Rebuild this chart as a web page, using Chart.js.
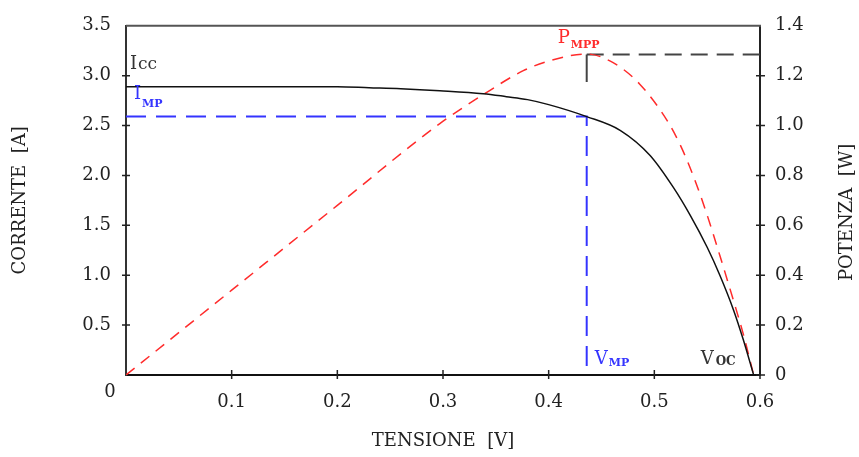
<!DOCTYPE html>
<html>
<head>
<meta charset="utf-8">
<script src="https://cdn.jsdelivr.net/npm/chart.js@4"></script>
<style>
  html, body { margin: 0; padding: 0; background: #fff; }
  #chart { display: block; }
</style>
</head>
<body>
<canvas id="chart" width="859" height="457"></canvas>
<script>
// curva I-V (corrente)
const tensioneI = [0, 0.1, 0.2, 0.23, 0.26, 0.297, 0.338, 0.36, 0.38, 0.40, 0.436, 0.468, 0.496, 0.518, 0.534, 0.55, 0.562, 0.575, 0.584, 0.594];
const corrente  = [2.89, 2.89, 2.89, 2.88, 2.87, 2.85, 2.82, 2.79, 2.76, 2.71, 2.59, 2.45, 2.2, 1.88, 1.6, 1.28, 1.0, 0.65, 0.36, 0];

// curva P-V (potenza)
const tensioneP = [0, 0.1, 0.2, 0.297, 0.338, 0.376, 0.401, 0.436, 0.461, 0.486, 0.512, 0.524, 0.537, 0.55, 0.562, 0.575, 0.584, 0.594];
const potenza   = [0, 0.34, 0.68, 1.008, 1.124, 1.22, 1.26, 1.287, 1.252, 1.167, 1.021, 0.927, 0.797, 0.641, 0.479, 0.297, 0.167, 0];

// punto di massima potenza
const VMP = 0.436;
const IMP = 2.59;
const PMPP = 1.285;
const PMARK = 1.175;
const VOC = 0.594;

const FONT = 'DejaVu Serif';
const INK = '#222';
const BLUE = '#3434ff';
const RED = '#ff2b2b';

function pts(xs, ys) {
  return xs.map((x, i) => ({ x: x, y: ys[i] }));
}

const decor = {
  id: 'decor',
  afterDraw(chart) {
    const ctx = chart.ctx;
    const a = chart.chartArea;
    const sx = chart.scales.x, sy = chart.scales.y, sp = chart.scales.y1;
    ctx.save();

    // bordo superiore
    ctx.strokeStyle = '#555';
    ctx.lineWidth = 2;
    ctx.beginPath();
    ctx.moveTo(a.left, a.top);
    ctx.lineTo(a.right + 1, a.top);
    ctx.stroke();

    // tacche
    ctx.strokeStyle = '#222';
    ctx.lineWidth = 1.5;
    ctx.beginPath();
    sy.ticks.forEach(t => {
      if (t.value === 0 || t.value === 3.5) return;
      const p = sy.getPixelForValue(t.value);
      ctx.moveTo(a.left - 4, p); ctx.lineTo(a.left + 4, p);
    });
    sp.ticks.forEach(t => {
      if (t.value === 1.4) return;
      const p = sp.getPixelForValue(t.value);
      ctx.moveTo(a.right - 4, p); ctx.lineTo(a.right + 5, p);
    });
    sx.ticks.forEach(t => {
      if (t.value === 0) return;
      const p = sx.getPixelForValue(t.value);
      ctx.moveTo(p, a.bottom - 5); ctx.lineTo(p, a.bottom + 4);
    });
    ctx.stroke();

    // zero comune
    ctx.fillStyle = INK;
    ctx.font = '18px ' + FONT;
    ctx.textAlign = 'center';
    ctx.textBaseline = 'alphabetic';
    ctx.fillText('0', a.left - 16, a.bottom + 22);

    // titolo asse destro
    ctx.save();
    ctx.translate(846, (a.top + a.bottom) / 2 + 12);
    ctx.rotate(-Math.PI / 2);
    ctx.font = '18px ' + FONT;
    ctx.fillText('POTENZA  [W]', 0, 6);
    ctx.restore();

    // etichette con pedice
    function label(x, y, big, small, color, dy) {
      ctx.fillStyle = color;
      ctx.textAlign = 'left';
      ctx.font = '18px ' + FONT;
      ctx.fillText(big, x, y);
      const w = ctx.measureText(big).width;
      ctx.font = 'bold 11px ' + FONT;
      ctx.fillText(small, x + w + 1, y + dy);
    }
    const x0 = sx.getPixelForValue(0);
    ctx.fillStyle = '#333';
    ctx.font = '18px ' + FONT;
    ctx.textAlign = 'left';
    ctx.fillText('I', x0 + 4, sy.getPixelForValue(corrente[0]) - 18);
    ctx.font = '17px ' + FONT;
    ctx.fillText('cc', x0 + 12, sy.getPixelForValue(corrente[0]) - 18);

    label(x0 + 8, sy.getPixelForValue(IMP) - 18, 'I', 'MP', BLUE, 8);
    label(sx.getPixelForValue(VMP) - 29, sp.getPixelForValue(PMPP) - 11, 'P', 'MPP', RED, 5);
    label(sx.getPixelForValue(VMP) + 8, a.bottom - 11, 'V', 'MP', BLUE, 2);
    ctx.fillStyle = '#333';
    ctx.font = '18px ' + FONT;
    const vx = sx.getPixelForValue(VOC) - 53;
    ctx.fillText('V', vx, a.bottom - 11);
    ctx.font = 'bold 12px ' + FONT;
    ctx.fillText('OC', vx + 15, a.bottom - 10);

    ctx.restore();
  }
};

const tickFont = { family: FONT, size: 18 };

new Chart(document.getElementById('chart'), {
  type: 'line',
  data: {
    datasets: [
      {
        label: 'Corrente',
        data: pts(tensioneI, corrente),
        yAxisID: 'y',
        borderColor: '#111',
        borderWidth: 1.5,
        pointRadius: 0,
        cubicInterpolationMode: 'monotone'
      },
      {
        label: 'Potenza',
        data: pts(tensioneP, potenza),
        yAxisID: 'y1',
        borderColor: RED,
        borderWidth: 1.5,
        borderDash: [11, 8],
        pointRadius: 0,
        cubicInterpolationMode: 'monotone'
      },
      {
        label: 'IMP',
        data: [{ x: 0, y: IMP }, { x: VMP, y: IMP }, { x: VMP, y: 0 }],
        yAxisID: 'y',
        borderColor: BLUE,
        borderWidth: 2,
        borderDash: [20, 10],
        pointRadius: 0,
        tension: 0
      },
      {
        label: 'PMPP',
        data: [{ x: VMP, y: PMPP }, { x: 0.6, y: PMPP }],
        yAxisID: 'y1',
        borderColor: '#444',
        borderWidth: 2,
        borderDash: [17, 9],
        pointRadius: 0,
        tension: 0
      },
      {
        label: 'marker',
        data: [{ x: VMP, y: PMPP }, { x: VMP, y: PMARK }],
        yAxisID: 'y1',
        borderColor: '#444',
        borderWidth: 2,
        pointRadius: 0,
        tension: 0
      }
    ]
  },
  options: {
    responsive: false,
    animation: false,
    devicePixelRatio: 1,
    layout: { padding: { top: 25, left: 0, right: 0, bottom: 0 } },
    plugins: { legend: { display: false }, tooltip: { enabled: false } },
    scales: {
      x: {
        type: 'linear',
        position: 'bottom',
        min: 0, max: 0.6,
        grid: { display: false, drawTicks: false },
        border: { display: true, color: '#111', width: 2 },
        ticks: {
          stepSize: 0.1,
          padding: 17,
          color: INK,
          font: tickFont,
          maxRotation: 0,
          callback: v => (Math.abs(v) < 1e-9 ? '' : v.toFixed(1))
        },
        title: {
          display: true,
          text: 'TENSIONE  [V]',
          color: INK,
          font: { family: FONT, size: 18 },
          padding: { top: 0, bottom: 5 }
        },
        afterFit: s => { s.height = 82; }
      },
      y: {
        position: 'left',
        min: 0, max: 3.5,
        grid: { display: false, drawTicks: false },
        border: { display: true, color: '#333', width: 2 },
        ticks: {
          stepSize: 0.5,
          padding: 15,
          color: INK,
          font: tickFont,
          callback: v => (Math.abs(v) < 1e-9 ? '' : v.toFixed(1))
        },
        title: {
          display: true,
          text: 'CORRENTE  [A]',
          color: INK,
          font: { family: FONT, size: 18 },
          padding: { top: 10, bottom: 0 }
        },
        afterFit: s => { s.width = 126; }
      },
      y1: {
        position: 'right',
        min: 0, max: 1.4,
        grid: { display: false, drawTicks: false },
        border: { display: true, color: '#222', width: 2 },
        ticks: {
          stepSize: 0.2,
          padding: 15,
          color: INK,
          font: tickFont,
          callback: v => (Math.abs(v) < 1e-9 ? '0' : v.toFixed(1))
        },
        afterFit: s => { s.width = 99; }
      }
    }
  },
  plugins: [decor]
});
</script>
</body>
</html>
